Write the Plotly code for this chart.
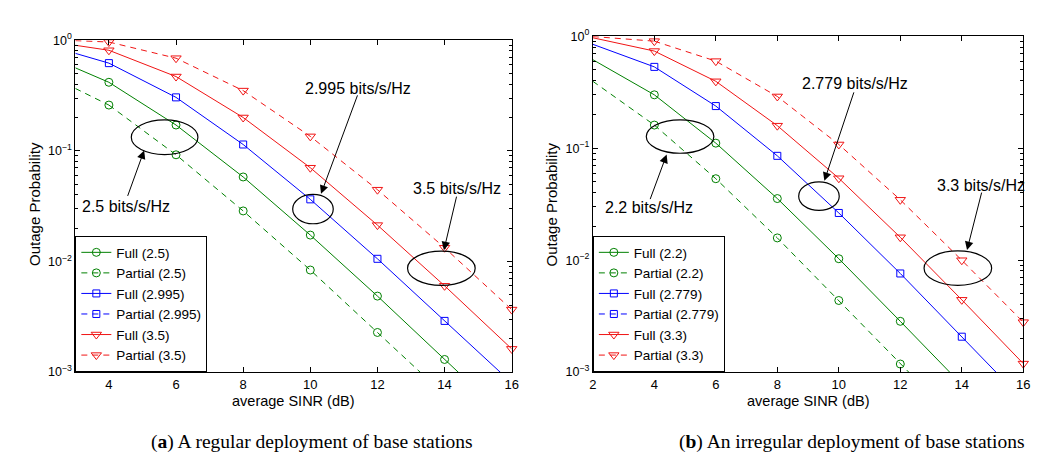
import numpy as np
import plotly.graph_objects as go

# ---------------- data ----------------
# (a) regular deployment: x from 3 dB (axis edge) then even SINR values
X_A = [3, 4, 6, 8, 10, 12, 14, 16]
FULL_A_25 = [0.562, 0.416, 0.171, 0.058, 0.0173, 0.00486, 0.0013, 0.00035]
PART_A_25 = [0.366, 0.259, 0.092, 0.0286, 0.00836, 0.00228, 0.00062, 0.00017]
FULL_A_2995 = [0.76, 0.62, 0.304, 0.114, 0.0364, 0.01056, 0.0029, 0.0008]
FULL_A_35 = [0.899, 0.81, 0.469, 0.20, 0.0703, 0.0213, 0.00602, 0.00162]
PART_A_35 = [0.99, 0.962, 0.687, 0.35, 0.135, 0.0445, 0.0133, 0.00367]

# (b) irregular deployment
X_B = [2, 4, 6, 8, 10, 12, 14, 16]
FULL_B_22 = [0.618, 0.30, 0.111, 0.0355, 0.0103, 0.00284, 0.00078, 0.00021]
PART_B_22 = [0.396, 0.161, 0.0534, 0.0158, 0.00436, 0.00118, 0.00032, 0.00009]
FULL_B_2779 = [0.848, 0.533, 0.238, 0.0855, 0.0264, 0.0076, 0.00207, 0.00056]
FULL_B_33 = [0.97, 0.738, 0.396, 0.159, 0.0539, 0.016, 0.00442, 0.00119]
PART_B_33 = [0.995, 0.905, 0.60, 0.29, 0.108, 0.0346, 0.00998, 0.00279]

X_TICKS_A = [4, 6, 8, 10, 12, 14, 16]
X_TICKS_B = [2, 4, 6, 8, 10, 12, 14, 16]
Y_TICKS = [1e-3, 1e-2, 1e-1, 1]
Y_TICK_TEXT = ["10<sup>\u22123</sup>", "10<sup>\u22122</sup>", "10<sup>\u22121</sup>", "10<sup>0</sup>"]
Y_MINOR = [m * 10.0 ** e for e in (-3, -2, -1) for m in range(2, 10)]

GREEN = "#008000"
BLUE = "#0000ff"
RED = "#f01414"
SANS = "Liberation Sans, Arial, Helvetica, sans-serif"
SERIF = "Liberation Serif, Times New Roman, serif"

W, H = 1049, 455

fig = go.Figure()


def add_series(x, y, color, dash, symbol, msize, name, xa, ya, legend):
    line = dict(color=color, width=1, dash=dash)
    # segment from the axis edge to the first marked point
    fig.add_trace(go.Scatter(x=x[:2], y=y[:2], mode="lines", line=line,
                             showlegend=False, hoverinfo="skip",
                             xaxis=xa, yaxis=ya))
    fig.add_trace(go.Scatter(x=x[1:], y=y[1:], mode="lines+markers", name=name,
                             line=line, cliponaxis=False,
                             marker=dict(symbol=symbol, size=msize, color=color,
                                         line=dict(width=1, color=color)),
                             xaxis=xa, yaxis=ya, legend=legend))


def add_legend_only(color, dash, symbol, msize, name, xa, ya, legend):
    fig.add_trace(go.Scatter(x=[None], y=[None], mode="lines+markers", name=name,
                             line=dict(color=color, width=1, dash=dash),
                             marker=dict(symbol=symbol, size=msize, color=color,
                                         line=dict(width=1, color=color)),
                             xaxis=xa, yaxis=ya, legend=legend))


DASH = "6px,5px"
add_series(X_A, FULL_A_25, GREEN, "solid", "circle-open", 8, "Full (2.5)", "x", "y", "legend")
add_series(X_A, PART_A_25, GREEN, DASH, "circle-open", 8, "Partial (2.5)", "x", "y", "legend")
add_series(X_A, FULL_A_2995, BLUE, "solid", "square-open", 7, "Full (2.995)", "x", "y", "legend")
add_legend_only(BLUE, DASH, "square-open", 7, "Partial (2.995)", "x", "y", "legend")
add_series(X_A, FULL_A_35, RED, "solid", "triangle-down-open", 9, "Full (3.5)", "x", "y", "legend")
add_series(X_A, PART_A_35, RED, DASH, "triangle-down-open", 9, "Partial (3.5)", "x", "y", "legend")

add_series(X_B, FULL_B_22, GREEN, "solid", "circle-open", 8, "Full (2.2)", "x2", "y2", "legend2")
add_series(X_B, PART_B_22, GREEN, DASH, "circle-open", 8, "Partial (2.2)", "x2", "y2", "legend2")
add_series(X_B, FULL_B_2779, BLUE, "solid", "square-open", 7, "Full (2.779)", "x2", "y2", "legend2")
add_legend_only(BLUE, DASH, "square-open", 7, "Partial (2.779)", "x2", "y2", "legend2")
add_series(X_B, FULL_B_33, RED, "solid", "triangle-down-open", 9, "Full (3.3)", "x2", "y2", "legend2")
add_series(X_B, PART_B_33, RED, DASH, "triangle-down-open", 9, "Partial (3.3)", "x2", "y2", "legend2")

# ---------------- axes ----------------
common_x = dict(showgrid=False, zeroline=False, showline=True, linecolor="black",
                linewidth=1, mirror="allticks", ticks="inside", ticklen=5,
                tickcolor="black", tickfont=dict(family=SANS, size=13, color="black"))
common_y = dict(type="log", range=[-3, 0], showgrid=False, zeroline=False,
                showline=True, linecolor="black", linewidth=1, mirror="allticks",
                ticks="inside", ticklen=5, tickcolor="black",
                tickvals=Y_TICKS, ticktext=Y_TICK_TEXT,
                minor=dict(tickmode="array", tickvals=Y_MINOR, ticks="inside",
                           ticklen=3, tickcolor="black", showgrid=False),
                tickfont=dict(family=SANS, size=12.5, color="black"))

A_L, A_R, A_T = 64, 505, 24
B_L, B_R, B_T = 587, 1022, 20
BOT = 368

LEGEND_STYLE = dict(y=1 - BOT / H, xanchor="left", yanchor="bottom",
                    bordercolor="black", borderwidth=1, bgcolor="white",
                    font=dict(family=SANS, size=13.5, color="black"),
                    tracegroupgap=0)

fig.update_layout(
    width=W, height=H, margin=dict(l=0, r=0, t=0, b=0),
    paper_bgcolor="white", plot_bgcolor="white",
    xaxis=dict(domain=[A_L / W, A_R / W], range=[3, 16], tickvals=X_TICKS_A,
               anchor="y", **common_x),
    yaxis=dict(domain=[1 - BOT / H, 1 - A_T / H], anchor="x", **common_y),
    xaxis2=dict(domain=[B_L / W, B_R / W], range=[2, 16], tickvals=X_TICKS_B,
                anchor="y2", **common_x),
    yaxis2=dict(domain=[1 - BOT / H, 1 - B_T / H], anchor="x2", **common_y),
    legend=dict(x=A_L / W, **LEGEND_STYLE),
    legend2=dict(x=B_L / W, **LEGEND_STYLE),
    showlegend=True,
)

# ---------------- ellipses ----------------
ELLIPSES = [
    ("x", "y", 4.667, 6.652, 0.0923, 0.190),
    ("x", "y", 9.475, 10.684, 0.0219, 0.0403),
    ("x", "y", 12.897, 14.912, 0.00607, 0.0124),
    ("x2", "y2", 3.738, 5.936, 0.0902, 0.179),
    ("x2", "y2", 8.695, 10.014, 0.0278, 0.0500),
    ("x2", "y2", 12.773, 14.971, 0.00596, 0.01208),
]
for xr, yr, x0, x1, y0, y1 in ELLIPSES:
    fig.add_shape(type="circle", xref=xr, yref=yr, x0=x0, x1=x1, y0=y0, y1=y1,
                  line=dict(color="black", width=1.2))

# ---------------- arrows & labels ----------------
# (xref, yref, head_x, head_y, tail dx px, tail dy px)
ARROWS = [
    ("x", "y", 5.05, 0.1008, -17, 47),
    ("x", "y", 10.32, 0.0408, 37, -100),
    ("x", "y", 13.98, 0.01265, 13, -55),
    ("x2", "y2", 4.40, 0.0877, -17, 46),
    ("x2", "y2", 9.53, 0.0511, 30, -90),
    ("x2", "y2", 14.17, 0.0123, 15, -59),
]
for xr, yr, hx, hy, dx, dy in ARROWS:
    fig.add_annotation(xref=xr, yref=yr, x=hx, y=np.log10(hy), ax=dx, ay=dy,
                       text="", showarrow=True, arrowhead=2, arrowsize=1.7,
                       arrowwidth=1, arrowcolor="black")

LABELS = [
    ("x", "y", 4.51, 0.0312, "2.5 bits/s/Hz"),
    ("x", "y", 11.41, 0.3664, "2.995 bits/s/Hz"),
    ("x", "y", 14.37, 0.0460, "3.5 bits/s/Hz"),
    ("x2", "y2", 3.83, 0.0294, "2.2 bits/s/Hz"),
    ("x2", "y2", 10.52, 0.3784, "2.779 bits/s/Hz"),
    ("x2", "y2", 14.63, 0.0462, "3.3 bits/s/Hz"),
]
for xr, yr, tx, ty, txt in LABELS:
    fig.add_annotation(xref=xr, yref=yr, x=tx, y=np.log10(ty), text=txt,
                       showarrow=False, xanchor="center", yanchor="middle",
                       font=dict(family=SANS, size=16, color="black"))

# axis titles
for cx in ((A_L + A_R) / 2, (B_L + B_R) / 2):
    fig.add_annotation(xref="paper", yref="paper", x=cx / W, y=1 - 398 / H,
                       text="average SINR (dB)", showarrow=False,
                       xanchor="center", yanchor="middle",
                       font=dict(family=SANS, size=14.5, color="black"))
for cx in (22, 545):
    fig.add_annotation(xref="paper", yref="paper", x=cx / W, y=1 - 194 / H,
                       text="Outage Probability", showarrow=False, textangle=-90,
                       xanchor="center", yanchor="middle",
                       font=dict(family=SANS, size=15, color="black"))

# captions
CAPTIONS = [(303.5, "(<b>a</b>) A regular deployment of base stations"),
            (849, "(<b>b</b>) An irregular deployment of base stations")]
for cx, txt in CAPTIONS:
    fig.add_annotation(xref="paper", yref="paper", x=cx / W, y=1 - 440 / H,
                       text=txt, showarrow=False, xanchor="center", yanchor="middle",
                       font=dict(family=SERIF, size=19.5, color="black"))

fig.write_html("out.html")
